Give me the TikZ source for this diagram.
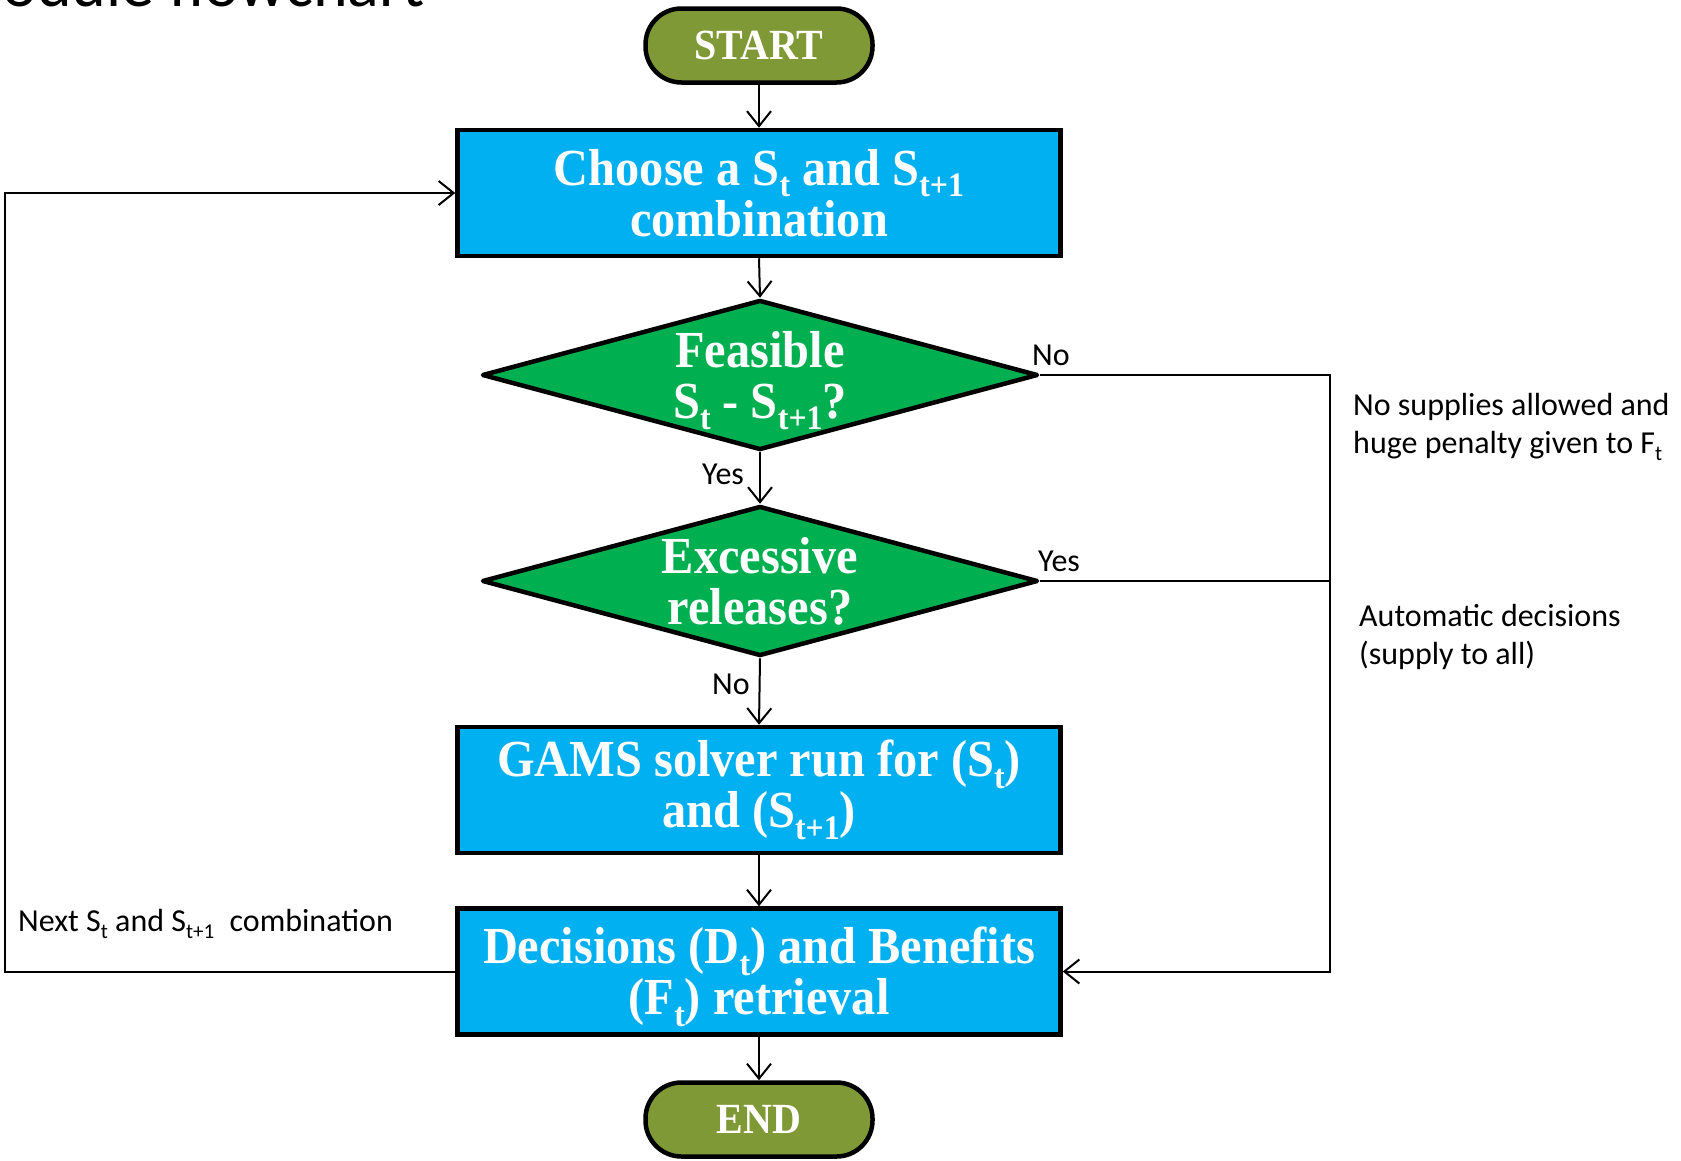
\documentclass[tikz,border=0pt]{standalone}
\usepackage{fontspec}
\usepackage{graphicx}
\setmainfont{Carlito}
\newfontfamily\boxfont[FakeStretch=0.93]{Liberation Serif}
\usetikzlibrary{shapes.geometric,arrows.meta}
\definecolor{termgreen}{RGB}{127,153,54}
\definecolor{procblue}{RGB}{0,176,240}
\definecolor{decgreen}{RGB}{0,176,80}
\newcommand\lo[1]{\raisebox{-0.22em}{\scalebox{0.66}{#1}}}
\newcommand\boxtext{\boxfont\bfseries\fontsize{52}{51}\selectfont}
\newcommand\termtext{\boxfont\bfseries\fontsize{43}{43}\selectfont}
\newcommand\lbltext{\fontsize{32}{37.5}\selectfont}
\begin{document}
\begin{tikzpicture}[x=1pt,y=-1pt,
  term/.style={draw=black,line width=4.5pt,fill=termgreen,rounded corners=36pt,
    minimum width=227pt,minimum height=74pt,inner sep=0pt,text=white,font=\termtext},
  proc/.style={draw=black,line width=4.5pt,fill=procblue,minimum width=603pt,
    minimum height=126pt,inner sep=0pt,align=center,text=white,font=\boxtext},
  dec/.style={diamond,draw=black,line width=4.5pt,line join=round,fill=decgreen,
    minimum width=556pt,minimum height=150pt,aspect=3.8,inner sep=0pt,
    align=center,text=white,font=\boxtext},
  conn/.style={line width=2pt,-{Straight Barb[length=15pt,width=24pt,line width=2pt]}},
  wire/.style={line width=2pt},
  lbl/.style={font=\lbltext,inner sep=0pt,anchor=base west,align=left}]
\useasboundingbox (0,0) rectangle (1681,1160);
\clip (0,0) rectangle (1681,1160);
\fill[white] (0,0) rectangle (1681,1160);
\node[font=\fontsize{66}{66}\selectfont,anchor=base east,inner sep=0pt] (title) at (425,6.5) {Module flowchart};
% nodes
\node[term] (start) at (759,45.5) {START};
\node[proc] (b1) at (759,193) {Choose a S\lo{t} and S\lo{t+1}\\combination};
\node[dec,text depth=0pt] (d1) at (760,375) {Feasible\\S\lo{t} - S\lo{t+1}?};
\node[dec] (d2) at (760,581) {Excessive\\releases?};
\node[proc] (b2) at (759,790) {GAMS solver run for (S\lo{t})\\and (S\lo{t+1})};
\node[proc,text depth=1.5pt] (b3) at (759,971.5) {Decisions (D\lo{t}) and Benefits\\(F\lo{t}) retrieval};
\node[term] (end) at (759,1119.5) {END};
\coordinate (rx) at (1330,0);
\coordinate (lx) at (5,0);
% connectors
\draw[conn] (start.south) -- (b1.north);
\draw[conn] (b1.south) -- (d1.north);
\draw[conn] (d1.south) -- (d2.north);
\draw[conn] (d2.south) -- (b2.north);
\draw[conn] (b2.south) -- (b3.north);
\draw[conn] (b3.south) -- (end.north);
\draw[conn] (d1.east) -- (d1.east -| rx) |- (b3.east);
\draw[wire] (d2.east) -- (d2.east -| rx);
\draw[conn] (b3.west) -- (b3.west -| lx) |- (b1.west);
% labels
\node[lbl] (yes1) at (702,484) {Yes};
\node[lbl] (no2) at (712,694) {No};
\node[lbl] (no1) at (1032,365) {No};
\node[lbl] (yes2) at (1038,571) {Yes};
\node[lbl] (note1) at (1353,453) {No supplies allowed and\\huge penalty given to F\lo{t}};
\node[lbl] (note2) at (1359,664) {Automatic decisions\\(supply to all)};
\node[lbl] (next) at (18,931) {Next S\lo{t} and S\lo{t+1}\hspace{0.25em} combination};
\end{tikzpicture}
\end{document}
